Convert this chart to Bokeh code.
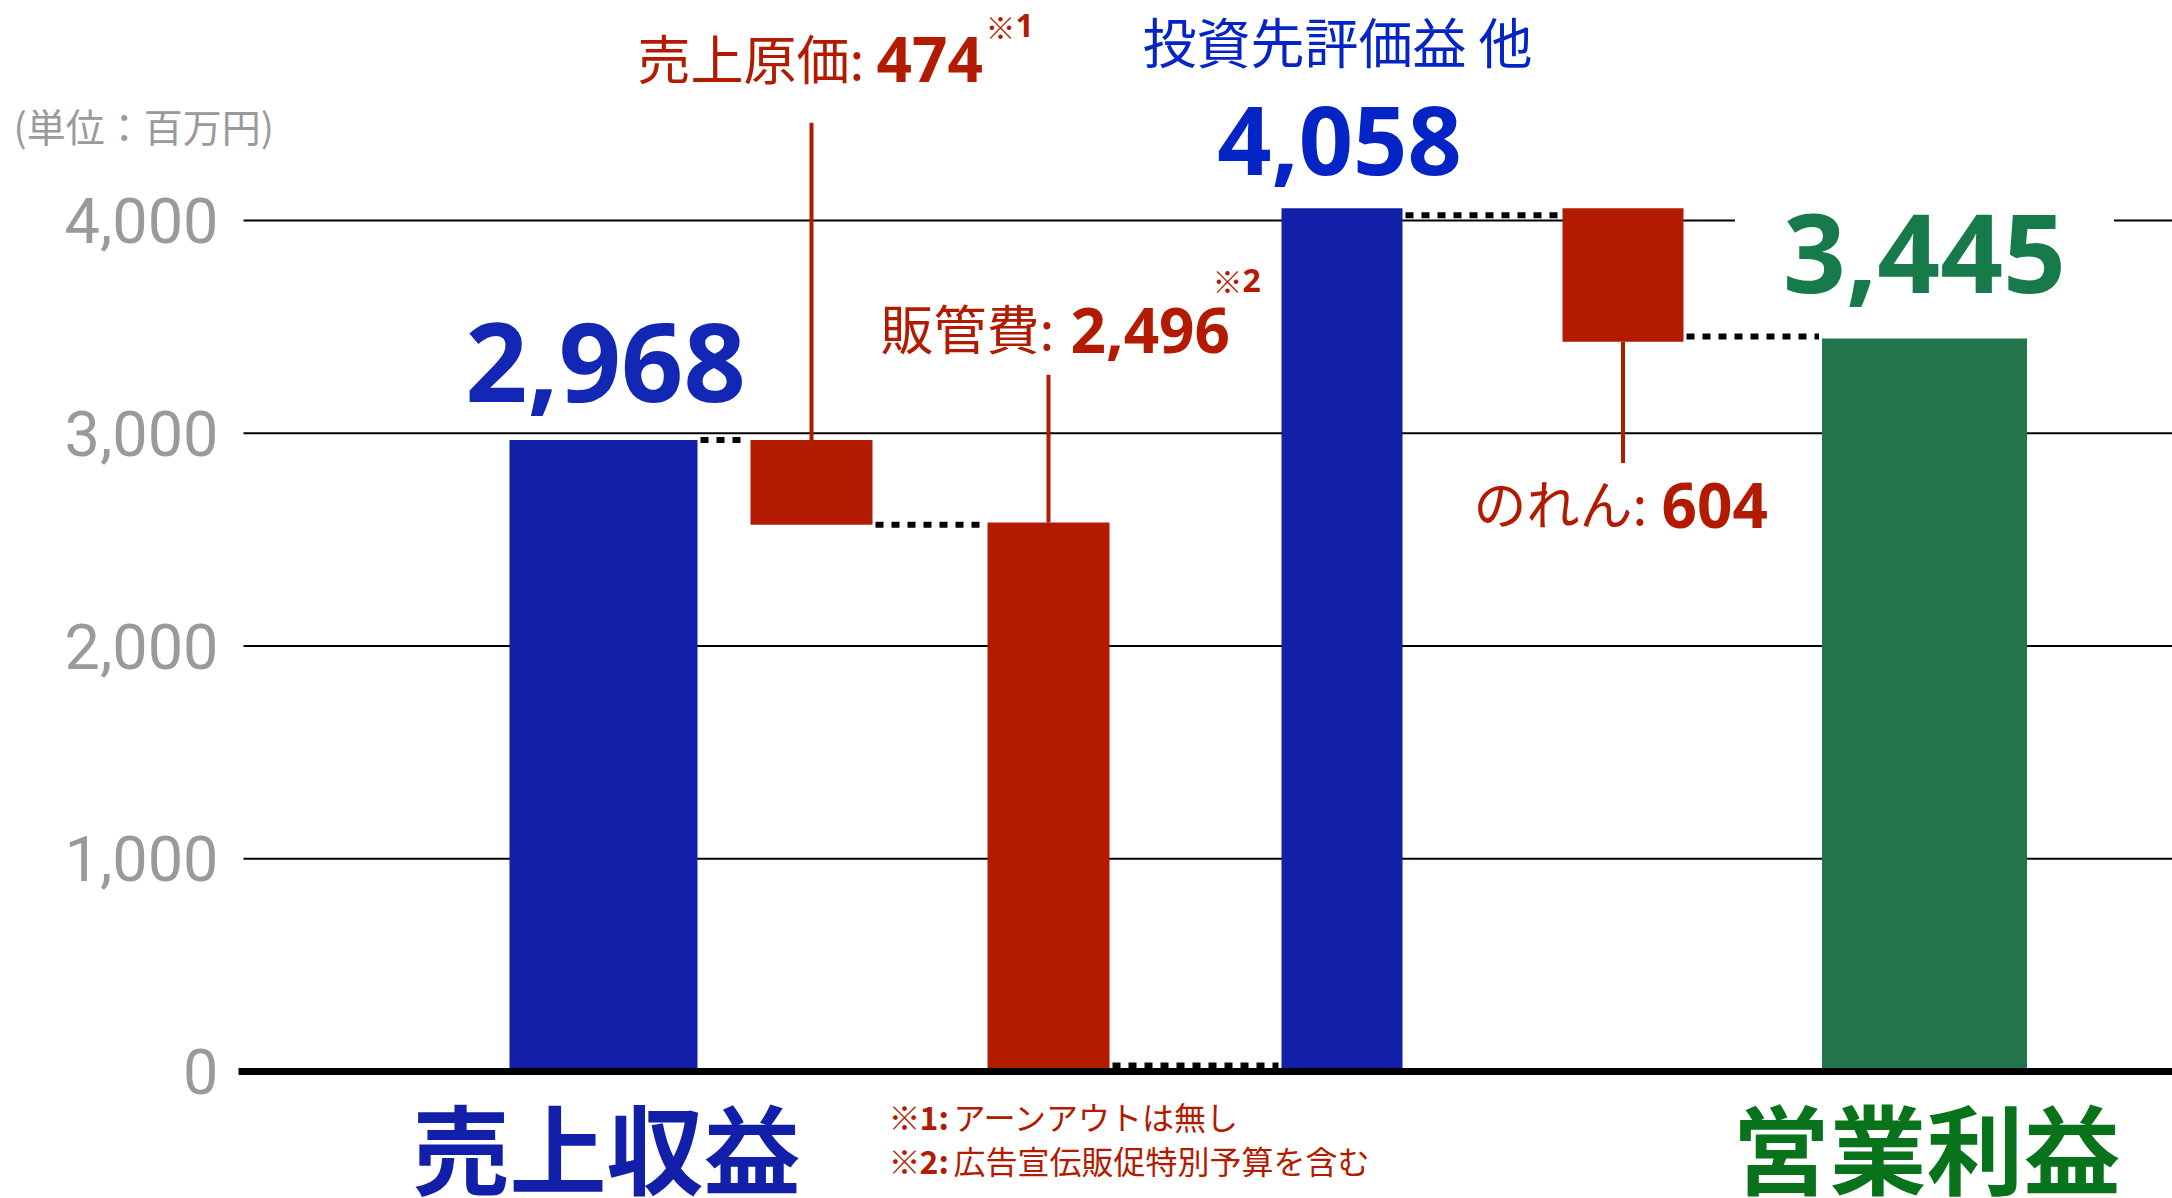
from bokeh.plotting import figure
from bokeh.models import Range1d, FixedTicker, NumeralTickFormatter, Label
from bokeh.embed import file_html
from bokeh.resources import INLINE

# ---------------- data ----------------
categories = ["売上収益", "売上原価", "販管費", "投資先評価益 他", "のれん", "営業利益"]
bar_top = [2968, 2968, 2580, 4058, 4058, 3445]
bar_bottom = [0, 2570, 0, 0, 3430, 0]
value_labels = ["2,968", "474", "2,496", "4,058", "604", "3,445"]
connector_levels = [2968, 2570, 28, 4025, 3455]
leader_ends = [4460, 3275, 2860]          # 売上原価, 販管費, のれん
y_ticks = [0, 1000, 2000, 3000, 4000]
unit_label = "(単位：百万円)"
footnotes = ["アーンアウトは無し", "広告宣伝販促特別予算を含む"]

# ---------------- layout / style ----------------
W, H = 2172, 1198
Y0_REF = 1071.0                      # pixel row of value 0
PX_PER_UNIT = (1071.0 - 220.0) / 4000.0
AXIS_X = 240                          # where the plotting area starts
X_END = 2172


def yv(ry):
    """pixel row -> data value (layout helper for text placement)"""
    return (Y0_REF - ry) / PX_PER_UNIT


bar_x = [603, 811, 1048, 1341.5, 1622.5, 1924]
bar_w = [188, 122, 122, 121, 121, 205]

BLUE = "#1220A9"
RED = "#B31B00"
GREEN = "#22754A"
BLUE_TXT = "#0424C6"
BLUE_TXT2 = "#1327B5"
GREEN_TXT = "#177A4A"
GREEN_CAT = "#08731A"
GRAY = "#9A9A9A"
bar_colors = [BLUE, RED, RED, BLUE, RED, GREEN]

CJK = "Noto Sans CJK JP"
NUM = "Noto Sans"

p = figure(width=W, height=H, output_backend="svg", toolbar_location=None,
           x_axis_type=None, x_range=Range1d(0, W),
           y_range=Range1d(yv(H), yv(0)),
           min_border_left=0, min_border_right=0, min_border_top=0,
           min_border_bottom=0)
p.outline_line_color = None
p.background_fill_color = "white"
p.border_fill_color = "white"

ax = p.yaxis[0]
ax.fixed_location = AXIS_X
ax.ticker = FixedTicker(ticks=y_ticks)
ax.formatter = NumeralTickFormatter(format="0,0")
ax.axis_line_color = None
ax.major_tick_line_color = None
ax.minor_tick_line_color = None
ax.major_tick_out = 0
ax.major_tick_in = 0
ax.major_label_standoff = 22
ax.major_label_text_font = "Roboto"
ax.major_label_text_font_size = "63px"
ax.major_label_text_color = GRAY

p.ygrid.visible = False
p.xgrid.visible = False

# horizontal grid lines at the ticks (except zero, drawn thicker below)
grid_ticks = y_ticks[1:]
p.segment(x0=[AXIS_X + 3] * len(grid_ticks), y0=grid_ticks,
          x1=[X_END] * len(grid_ticks), y1=grid_ticks,
          line_color="black", line_width=2)

# leader lines
lead_idx = [1, 2, 4]
lead_start = [bar_top[1], bar_top[2], bar_bottom[4]]
p.segment(x0=[bar_x[i] for i in lead_idx], y0=lead_start,
          x1=[bar_x[i] for i in lead_idx], y1=leader_ends,
          line_color=RED, line_width=4)

# bars
p.vbar(x=bar_x, width=bar_w, top=bar_top, bottom=bar_bottom,
       fill_color=bar_colors, line_color=None)

# zero line
p.segment(x0=[AXIS_X - 2], y0=[0], x1=[X_END], y1=[0],
          line_color="black", line_width=7)

# dotted connectors
gap = 3
cx0 = [bar_x[i] + bar_w[i] / 2 + gap for i in range(5)]
cx1 = [bar_x[i + 1] - bar_w[i + 1] / 2 - gap for i in range(5)]
p.segment(x0=cx0, y0=connector_levels, x1=cx1, y1=connector_levels,
          line_color="black", line_width=6, line_dash="8 8", line_cap="butt")


def lab(text, x, ry, size, color, bold=False, font=CJK, align="left", **kw):
    p.add_layout(Label(x=x, y=yv(ry), text=text, text_font=font,
                       text_font_size=f"{size}px", text_color=color,
                       text_font_style="bold" if bold else "normal",
                       text_align=align, text_baseline="middle", **kw))


lab(unit_label, 13, 124, 39, GRAY)

# 売上原価
lab(categories[1] + ":", 637, 56, 53, RED)
lab(value_labels[1], 876, 59, 62, RED, bold=True, font=NUM)
lab("※", 985, 25, 30, RED)
lab("1", 1015, 25, 32, RED, bold=True, font=NUM)

# 投資先評価益 他
lab(categories[3], 1337, 40, 54, BLUE_TXT, align="center")
lab(value_labels[3], 1339, 140, 95, BLUE_TXT, bold=True, font=NUM, align="center")

# 売上収益 value
lab(value_labels[0], 605, 362, 109, BLUE_TXT2, bold=True, font=NUM, align="center")

# 営業利益 value
lab(value_labels[5], 1924, 253, 110, GREEN_TXT, bold=True, font=NUM,
    align="center", background_fill_color="white",
    padding=dict(left=48, right=48, top=0, bottom=0))

# 販管費
lab(categories[2] + ":", 880, 326, 53, RED)
lab(value_labels[2], 1070, 330, 62, RED, bold=True, font=NUM)
lab("※", 1212, 279, 30, RED)
lab("2", 1242, 280, 32, RED, bold=True, font=NUM)

# のれん
lab(categories[4] + ":", 1473, 501, 53, RED)
lab(value_labels[4], 1661, 505, 62, RED, bold=True, font=NUM)

# footnotes
for k, (fy, note) in enumerate(zip([1115, 1159], footnotes)):
    lab("※", 888, fy, 32, RED)
    lab(f"{k + 1}:", 919, fy, 32, RED, bold=True)
    lab(note, 953, fy, 32, RED)

# category titles below
lab(categories[0], 606, 1144, 97, BLUE, bold=True, align="center")
lab(categories[5], 1926, 1144, 97, GREEN_CAT, bold=True, align="center")

open("out.html", "w").write(file_html(p, INLINE))
